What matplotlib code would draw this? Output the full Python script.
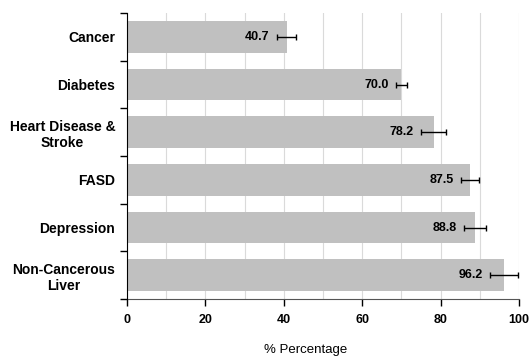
import matplotlib
matplotlib.use("Agg")
import matplotlib.pyplot as plt
import numpy as np

plt.rcParams["font.family"] = ["Liberation Sans", "DejaVu Sans"]

categories = ["Cancer", "Diabetes", "Heart Disease &\nStroke", "FASD",
              "Depression", "Non-Cancerous\nLiver"]
values = [40.7, 70.0, 78.2, 87.5, 88.8, 96.2]
errors = [2.5, 1.4, 3.3, 2.2, 2.9, 3.5]

fig = plt.figure(figsize=(5.30, 3.56), dpi=100)
ax = fig.add_axes([0.2396, 0.160, 0.7396, 0.8035])

y = np.arange(len(categories))
ax.barh(y, values, height=0.67, color="#c0c0c0", zorder=2)
ax.errorbar(values, y, xerr=errors, fmt="none", ecolor="black",
            elinewidth=1.0, capsize=2.5, capthick=1.0, zorder=3)

# value labels sit just left of the lower error whisker
for yi, v, e in zip(y, values, errors):
    ax.annotate(f"{v:.1f}", xy=(v - e, yi), xytext=(-7, 0),
                textcoords="offset pixels", ha="right", va="center",
                fontsize=9, fontweight="bold", zorder=4)

ax.set_xlim(0, 100)
ax.set_ylim(5.5, -0.5)
ax.set_xticks(np.arange(0, 101, 20))
ax.set_xticks(np.arange(0, 101, 10), minor=True)
ax.grid(axis="x", which="both", color="#dadada", linewidth=0.8, zorder=0)

ax.set_yticks(y)
ax.set_yticklabels(categories, fontsize=10, fontweight="bold",
                   multialignment="center")
ax.set_yticks(np.arange(-0.5, 6, 1), minor=True)
ax.tick_params(axis="y", which="major", length=0, pad=8.5)
ax.tick_params(axis="y", which="minor", length=5, width=1.0, direction="out")
ax.tick_params(axis="x", which="major", length=5, width=1.0, labelsize=9,
               pad=6)
ax.tick_params(axis="x", which="minor", length=0)
for lab in ax.get_xticklabels():
    lab.set_fontweight("bold")

for s in ["top", "right"]:
    ax.spines[s].set_visible(False)
ax.spines["left"].set_color("black")
ax.spines["bottom"].set_color("#555555")
ax.spines["left"].set_zorder(5)

ax.set_xlabel("% Percentage", fontsize=9.5)
ax.xaxis.set_label_coords((306 - 127) / 392, -0.158)

fig.savefig("out.png", dpi=100)
